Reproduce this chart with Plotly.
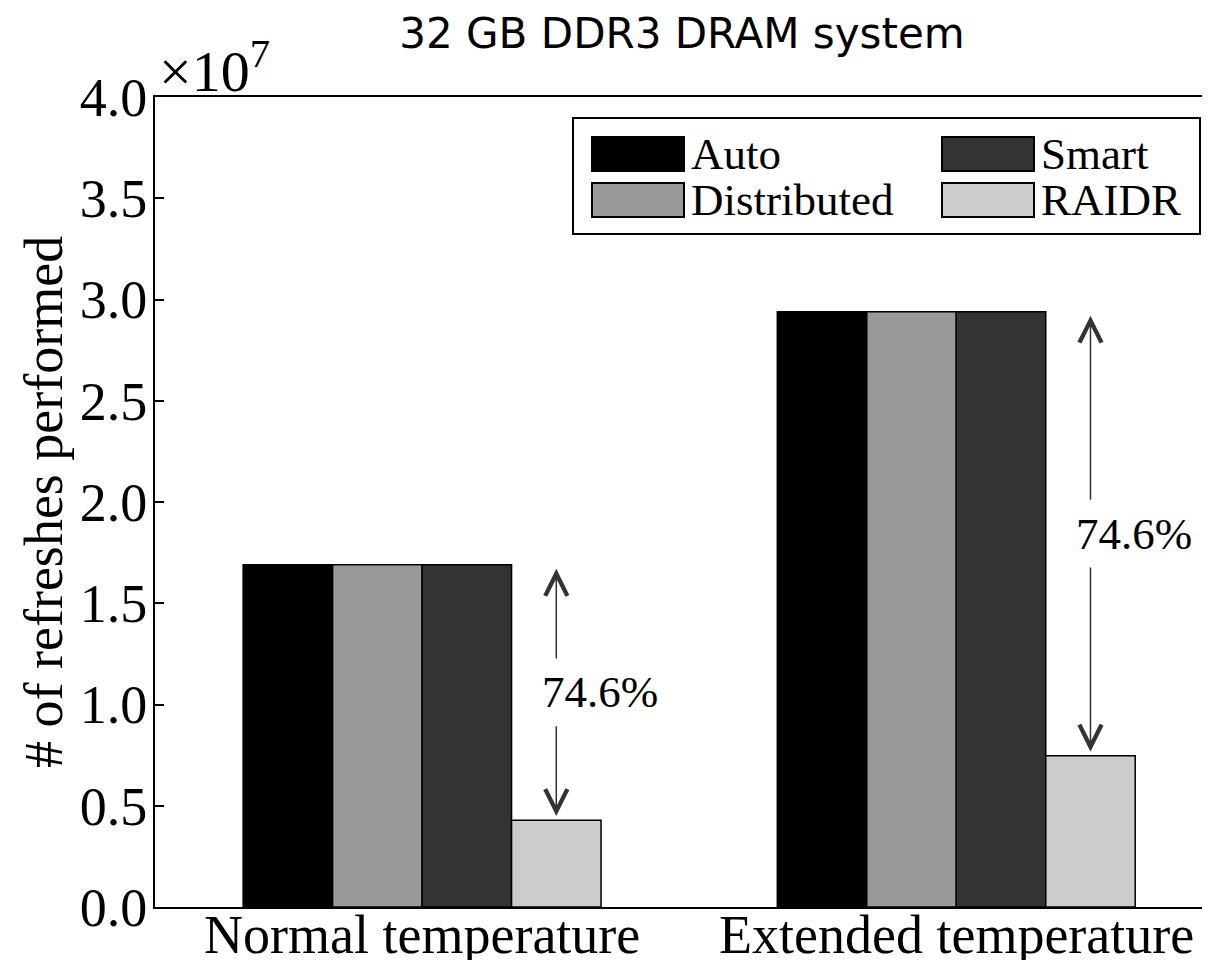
import plotly.graph_objects as go

# ---- data (values in units of 10^7 refreshes) ----
categories = ["Normal temperature", "Extended temperature"]
series_names = ["Auto", "Distributed", "Smart", "RAIDR"]
auto_vals = [1.69, 2.94]
distributed_vals = [1.69, 2.94]
smart_vals = [1.69, 2.94]
raidr_vals = [0.429, 0.747]
reduction_labels = ["74.6%", "74.6%"]
y_tick_vals = [0.0, 0.5, 1.0, 1.5, 2.0, 2.5, 3.0, 3.5, 4.0]

colors = ["#000000", "#999999", "#333333", "#cccccc"]
series_vals = [auto_vals, distributed_vals, smart_vals, raidr_vals]

OFF = 8  # page body margin
W, H = 1202, 952
L, R, T, B = 147, 0, 89, 53
SERIF = "Liberation Serif"

def px_x(p):  # absolute screen px -> paper x
    return (p - OFF - L) / (W - L - R)

def px_y(p):  # absolute screen px -> paper y
    return (H - B - (p - OFF)) / (H - T - B)

fig = go.Figure()
for name, vals, col in zip(series_names, series_vals, colors):
    fig.add_trace(go.Bar(
        x=categories, y=vals, name=name,
        marker=dict(color=col, line=dict(color="#000000", width=1.5)),
        showlegend=False,
    ))

bargap = 0.33
bw = (1 - bargap) / len(series_names)
raidr_off = 1.5 * bw

annotations = []
shapes = []
for i, cat in enumerate(categories):
    top = auto_vals[i]
    bot = raidr_vals[i]
    mid = (top + bot) / 2
    xa = i + raidr_off
    common = dict(xref="x", yref="y", axref="x", ayref="y", text="",
                  showarrow=True, arrowhead=5, arrowsize=2.9, arrowwidth=1.5,
                  arrowcolor="#333333")
    annotations.append(dict(x=xa, y=top - 0.02, ax=xa, ay=mid + 0.16, **common))
    annotations.append(dict(x=xa, y=bot + 0.02, ax=xa, ay=mid - 0.16, **common))
    annotations.append(dict(x=i + 0.333, y=mid, xref="x", yref="y",
                            text=reduction_labels[i], showarrow=False,
                            font=dict(family=SERIF, size=45, color="#000000"),
                            xanchor="center", yanchor="middle"))
    # category label under the axis
    annotations.append(dict(x=i, y=0, xref="x", yref="paper",
                            text=cat, showarrow=False,
                            xanchor="center", yanchor="top", yshift=4,
                            font=dict(family=SERIF, size=54, color="#000000")))

# exponent label
annotations.append(dict(x=px_x(157), y=px_y(106), xref="paper", yref="paper",
                        text="×10<sup>7</sup>", showarrow=False,
                        xanchor="left", yanchor="bottom",
                        font=dict(family=SERIF, size=58, color="#000000")))
# y-axis title
annotations.append(dict(x=px_x(44), y=px_y(502), xref="paper", yref="paper",
                        text="# of refreshes performed", showarrow=False,
                        textangle=-90, xanchor="center", yanchor="middle",
                        font=dict(family=SERIF, size=54, color="#000000")))

# custom legend (box, swatches, labels)
shapes.append(dict(type="rect", xref="paper", yref="paper",
                   x0=px_x(573), x1=px_x(1200), y0=px_y(234), y1=px_y(118),
                   line=dict(color="#000000", width=2), fillcolor="white"))
leg_cols = [592, 942]
leg_rows = [154, 200]
leg_pos = {"Auto": (0, 0), "Smart": (1, 0), "Distributed": (0, 1), "RAIDR": (1, 1)}
for name, col in zip(series_names, colors):
    c, r = leg_pos[name]
    x0 = leg_cols[c]
    yc = leg_rows[r]
    shapes.append(dict(type="rect", xref="paper", yref="paper",
                       x0=px_x(x0), x1=px_x(x0 + 92), y0=px_y(yc + 17), y1=px_y(yc - 17),
                       line=dict(color="#000000", width=2), fillcolor=col))
    annotations.append(dict(x=px_x(x0 + 97), y=px_y(yc), xref="paper", yref="paper",
                            text=name, showarrow=False, xanchor="left", yanchor="middle",
                            font=dict(family=SERIF, size=45, color="#000000")))

fig.update_layout(
    width=W, height=H,
    margin=dict(l=L, r=R, t=T, b=B, autoexpand=False),
    paper_bgcolor="white", plot_bgcolor="white",
    barmode="group", bargap=bargap, bargroupgap=0,
    title=dict(text="32 GB DDR3 DRAM system", x=(682 - OFF) / W, xanchor="center",
               y=1 - (33 - OFF) / H, yanchor="middle",
               font=dict(family="DejaVu Sans", size=42, color="#000000")),
    annotations=annotations, shapes=shapes,
    showlegend=False,
)
fig.update_xaxes(
    range=[-0.5, 1.475], showline=True, linecolor="#000000", linewidth=2,
    mirror=True, ticks="", showgrid=False, zeroline=False, showticklabels=False,
)
fig.update_yaxes(
    range=[0, 4.0], tickvals=y_tick_vals, ticktext=[f"{v:.1f}" for v in y_tick_vals],
    showline=True, linecolor="#000000", linewidth=2,
    ticks="inside", ticklen=9, tickwidth=2, tickcolor="#000000",
    ticklabelstandoff=-5,
    showgrid=False, zeroline=False,
    tickfont=dict(family=SERIF, size=54, color="#000000"),
)

fig.write_html("out.html")
